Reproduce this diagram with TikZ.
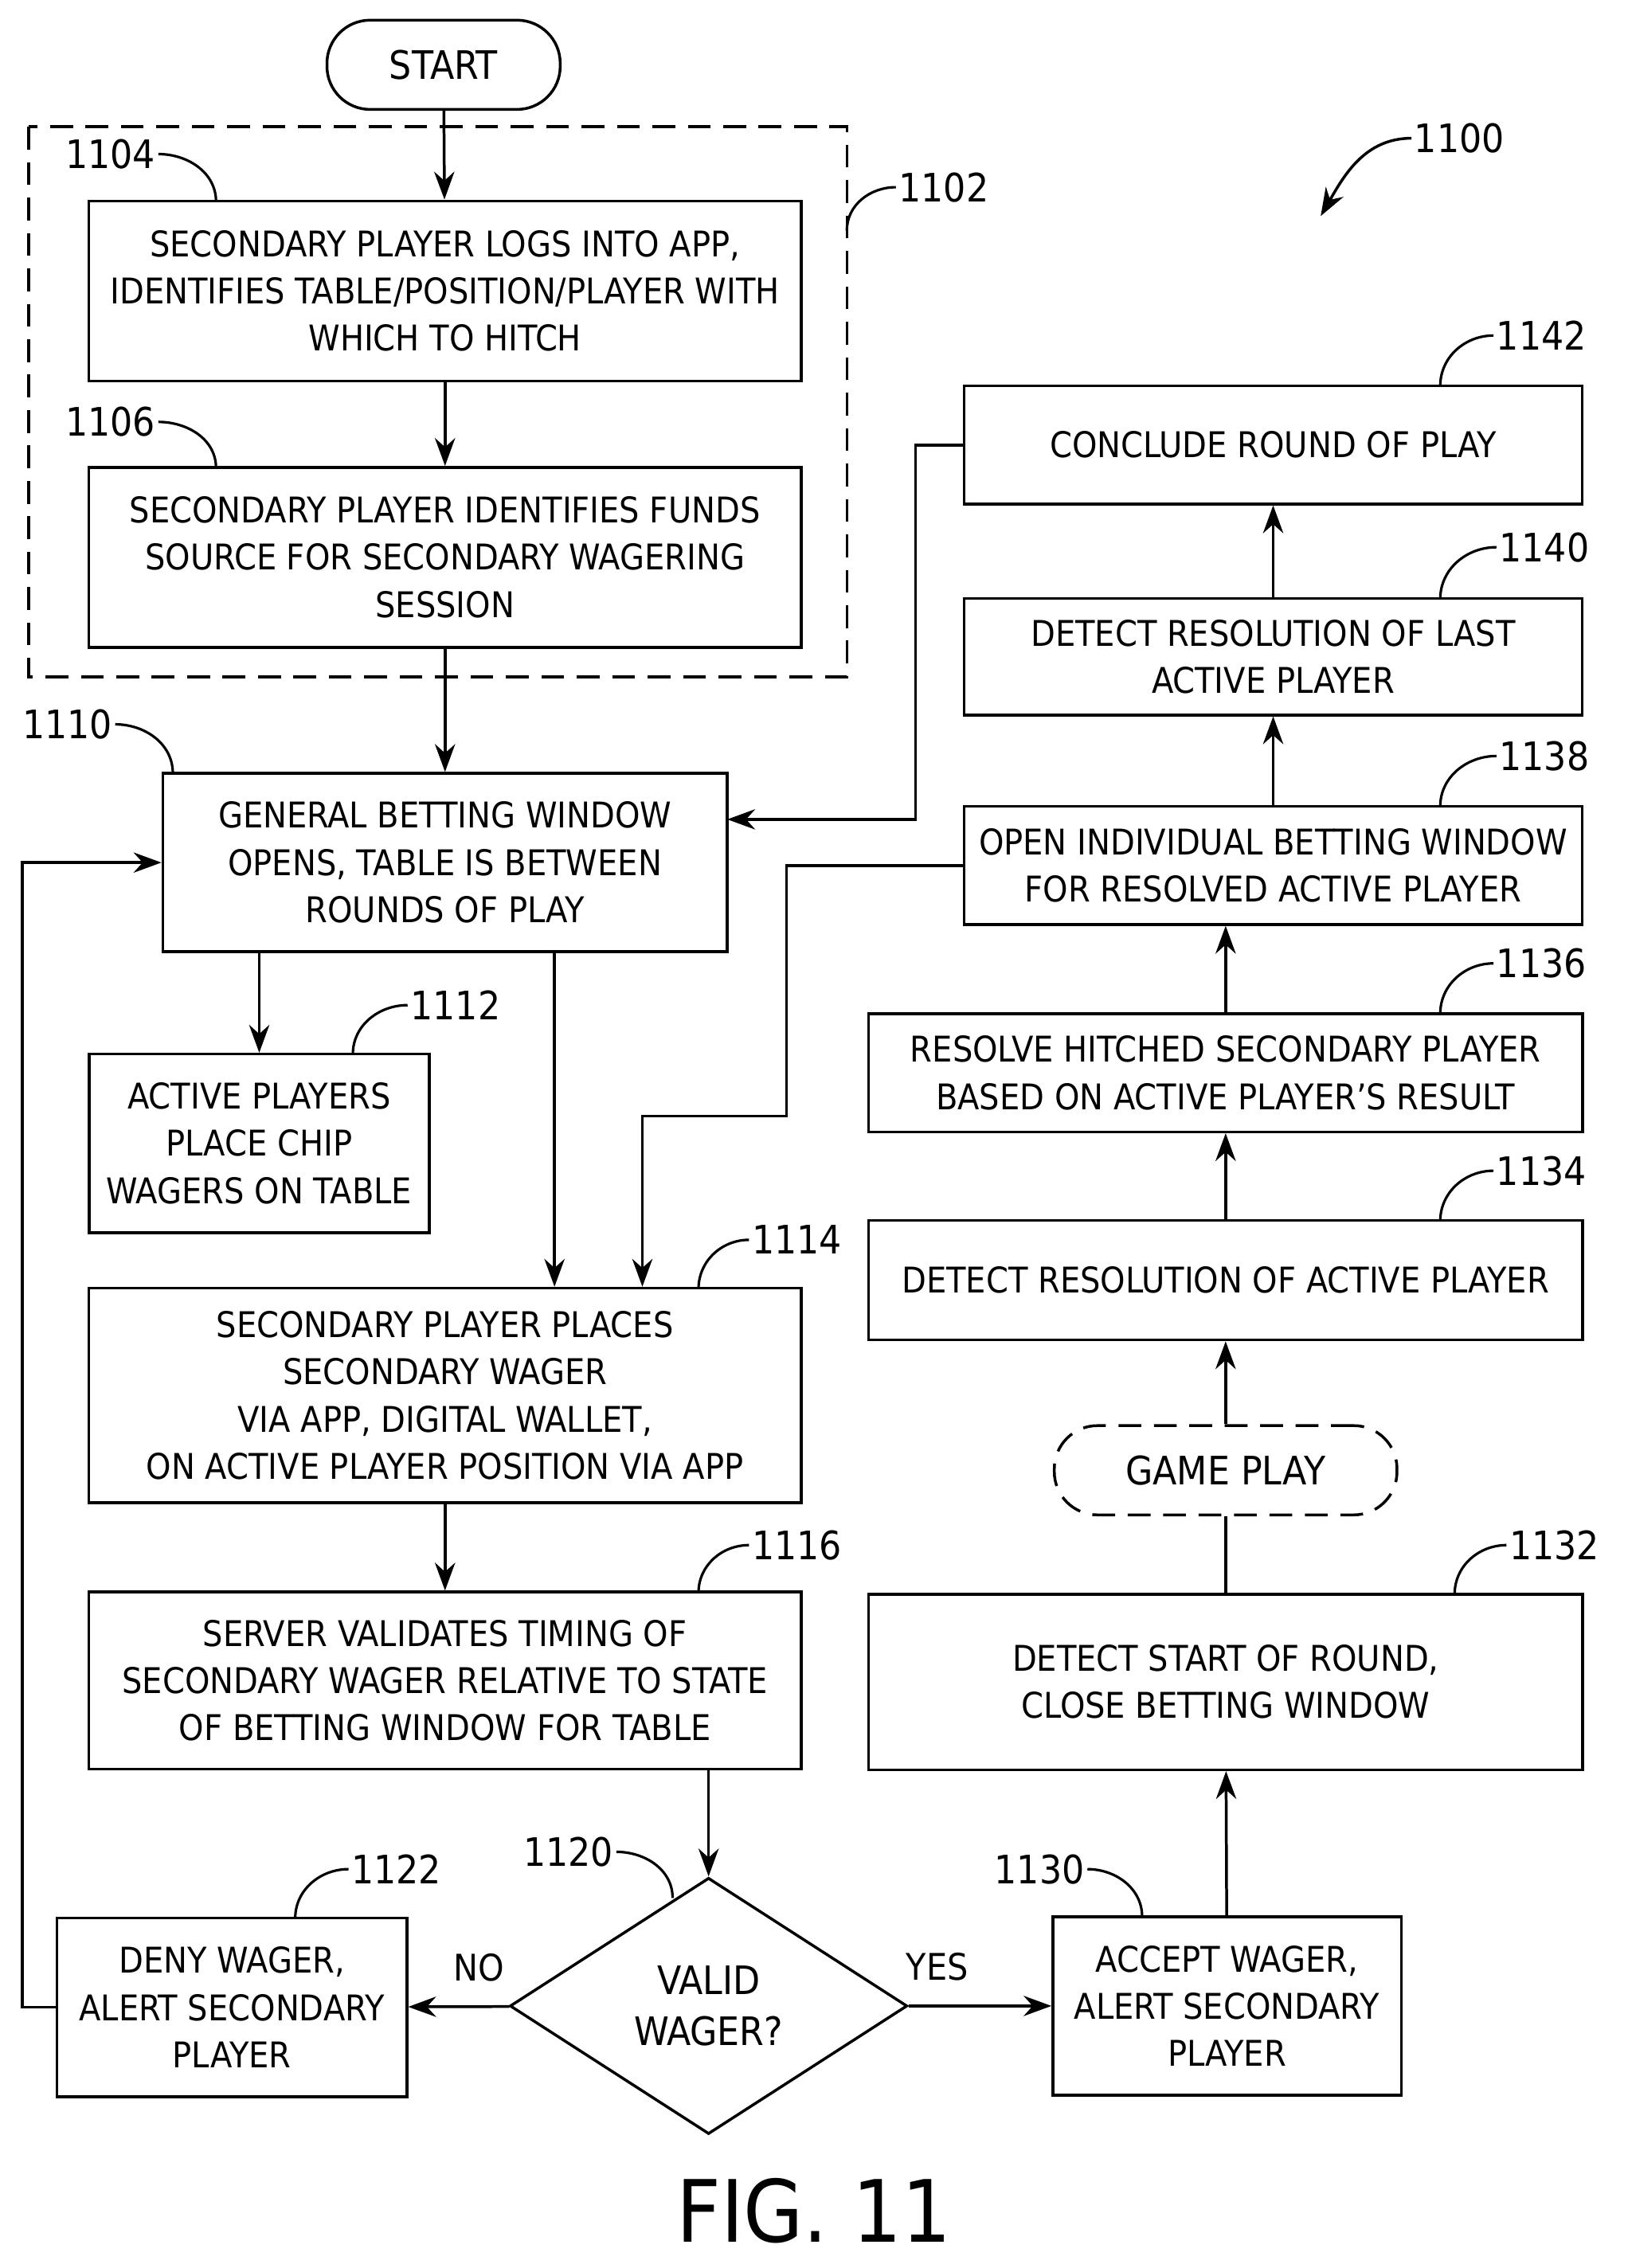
\documentclass[tikz,border=0pt]{standalone}
\usepackage{fontspec}
\setmainfont{DejaVu Sans Condensed}
\usetikzlibrary{arrows.meta,shapes.geometric,positioning}

\tikzset{
  box/.style={draw,line width=1.1pt,align=center,inner sep=2pt,font=\fontsize{14}{18.7}\selectfont},
  term/.style={box,rounded corners=0.6cm},
  num/.style={font=\fontsize{15.5}{18}\selectfont,inner sep=1pt},
  flow/.style={line width=1.1pt,-{Stealth[length=11pt,width=8pt]}},
  lead/.style={line width=1pt},
}

\begin{document}
\begin{tikzpicture}[x=0.02cm,y=-0.02cm]

  \useasboundingbox (0,0) rectangle (1130,1575);

  % dashed group
  \draw[line width=1.1pt,dash pattern=on 9pt off 5pt] (20,88) rectangle (588,470);

  % left column
  \node[term,minimum width=3.24cm,minimum height=1.24cm,font=\fontsize{15.5}{18}\selectfont] (start) at (308,45) {START};
  \node[box,minimum width=9.9cm,minimum height=2.5cm] (logs) at (309,202) {SECONDARY PLAYER LOGS INTO APP,\\IDENTIFIES TABLE/POSITION/PLAYER WITH\\WHICH TO HITCH};
  \node[box,minimum width=9.9cm,minimum height=2.5cm] (funds) at (309,387) {SECONDARY PLAYER IDENTIFIES FUNDS\\SOURCE FOR SECONDARY WAGERING\\SESSION};
  \node[box,minimum width=7.84cm,minimum height=2.48cm] (window) at (309,599) {GENERAL BETTING WINDOW\\OPENS, TABLE IS BETWEEN\\ROUNDS OF PLAY};
  \node[box,minimum width=4.72cm,minimum height=2.48cm] (chips) at (180,794) {ACTIVE PLAYERS\\PLACE CHIP\\WAGERS ON TABLE};
  \node[box,minimum width=9.9cm,minimum height=2.98cm] (places) at (309,969) {SECONDARY PLAYER PLACES\\SECONDARY WAGER\\VIA APP, DIGITAL WALLET,\\ON ACTIVE PLAYER POSITION VIA APP};
  \node[box,minimum width=9.9cm,minimum height=2.46cm] (validate) at (309,1167) {SERVER VALIDATES TIMING OF\\SECONDARY WAGER RELATIVE TO STATE\\OF BETTING WINDOW FOR TABLE};
  \node[draw,line width=1.1pt,diamond,aspect=1.55,minimum width=5.52cm,minimum height=3.56cm,inner sep=0pt,align=center,font=\fontsize{15.5}{20}\selectfont] (valid) at (492,1393) {VALID\\WAGER?};
  \node[box,minimum width=4.86cm,minimum height=2.48cm] (deny) at (161,1394) {DENY WAGER,\\ALERT SECONDARY\\PLAYER};

  % right column
  \node[box,minimum width=4.84cm,minimum height=2.48cm] (accept) at (852,1393) {ACCEPT WAGER,\\ALERT SECONDARY\\PLAYER};
  \node[box,minimum width=9.92cm,minimum height=2.44cm] (close) at (851,1168) {DETECT START OF ROUND,\\CLOSE BETTING WINDOW};
  \node[term,dash pattern=on 9pt off 5pt,minimum width=4.76cm,minimum height=1.24cm,font=\fontsize{15.5}{18}\selectfont] (game) at (851,1021) {GAME PLAY};
  \node[box,minimum width=9.92cm,minimum height=1.66cm] (detect) at (851,889) {DETECT RESOLUTION OF ACTIVE PLAYER};
  \node[box,minimum width=9.92cm,minimum height=1.64cm] (resolve) at (851,745) {RESOLVE HITCHED SECONDARY PLAYER\\BASED ON ACTIVE PLAYER'S RESULT};
  \node[box,minimum width=8.58cm,minimum height=1.64cm] (indiv) at (884,601) {OPEN INDIVIDUAL BETTING WINDOW\\FOR RESOLVED ACTIVE PLAYER};
  \node[box,minimum width=8.58cm,minimum height=1.62cm] (last) at (884,456) {DETECT RESOLUTION OF LAST\\ACTIVE PLAYER};
  \node[box,minimum width=8.58cm,minimum height=1.64cm] (conclude) at (884,309) {CONCLUDE ROUND OF PLAY};

  % connectors
  \draw[flow] (start) -- (logs);
  \draw[flow] (logs) -- (funds);
  \draw[flow] (funds) -- (window);
  \draw[flow] (window.south -| chips) -- (chips);
  \draw[flow] (window.south -| 385,0) -- (places.north -| 385,0);
  \draw[flow] (places) -- (validate);
  \draw[flow] (validate.south -| valid) -- (valid);
  \draw[flow] (valid) -- node[above=6pt,pos=0.3,font=\fontsize{14.5}{16}\selectfont]{NO} (deny);
  \draw[flow] (valid) -- node[above=6pt,pos=0.2,font=\fontsize{14.5}{16}\selectfont]{YES} (accept);
  \draw[flow] (deny.west) -- ++(-23,0) |- (window.west);
  \draw[flow] (accept) -- (close);
  \draw[line width=1.1pt] (close) -- (game);
  \draw[flow] (game) -- (detect);
  \draw[flow] (detect) -- (resolve);
  \draw[flow] (resolve.north -| detect) -- (indiv.south -| detect);
  \draw[flow] (indiv) -- (last);
  \draw[flow] (last) -- (conclude);
  \draw[flow] (conclude.west) -- ++(-33,0) |- (505,569);
  \draw[flow] (indiv.west) -- (546,601) -- (546,775) -- (446,775) -- (places.north -| 446,0);

  % reference numerals
  \node[num,anchor=east] (n1104) at (110,107) {1104};
  \draw[lead] (n1104.east) to[out=0,in=90] (150,140);
  \node[num,anchor=east] (n1106) at (110,293) {1106};
  \draw[lead] (n1106.east) to[out=0,in=90] (150,325);
  \node[num,anchor=west] (n1102) at (622,130) {1102};
  \draw[lead] (n1102.west) to[out=180,in=90] (588,160);
  \node[num,anchor=east] (n1110) at (80,503) {1110};
  \draw[lead] (n1110.east) to[out=0,in=90] (120,537);
  \node[num,anchor=west] (n1112) at (283,698) {1112};
  \draw[lead] (n1112.west) to[out=180,in=90] (245,732);
  \node[num,anchor=west] (n1114) at (520,861) {1114};
  \draw[lead] (n1114.west) to[out=180,in=90] (485,895);
  \node[num,anchor=west] (n1116) at (520,1073) {1116};
  \draw[lead] (n1116.west) to[out=180,in=90] (485,1106);
  \node[num,anchor=east] (n1120) at (428,1286) {1120};
  \draw[lead] (n1120.east) to[out=0,in=90] (467,1318);
  \node[num,anchor=west] (n1122) at (242,1298) {1122};
  \draw[lead] (n1122.west) to[out=180,in=90] (205,1332);
  \node[num,anchor=east] (n1130) at (755,1298) {1130};
  \draw[lead] (n1130.east) to[out=0,in=90] (793,1331);
  \node[num,anchor=west] (n1132) at (1046,1073) {1132};
  \draw[lead] (n1132.west) to[out=180,in=90] (1010,1107);
  \node[num,anchor=west] (n1134) at (1037,813) {1134};
  \draw[lead] (n1134.west) to[out=180,in=90] (1000,848);
  \node[num,anchor=west] (n1136) at (1037,669) {1136};
  \draw[lead] (n1136.west) to[out=180,in=90] (1000,704);
  \node[num,anchor=west] (n1138) at (1039,525) {1138};
  \draw[lead] (n1138.west) to[out=180,in=90] (1000,560);
  \node[num,anchor=west] (n1140) at (1039,380) {1140};
  \draw[lead] (n1140.west) to[out=180,in=90] (1000,416);
  \node[num,anchor=west] (n1142) at (1037,233) {1142};
  \draw[lead] (n1142.west) to[out=180,in=90] (1000,268);
  \node[num,anchor=west] (n1100) at (980,96) {1100};
  \draw[line width=1.1pt,-{Stealth[length=11pt,width=8pt]}] (n1100.west) to[out=180,in=60] (917,150);

  \node[font=\fontsize{34}{40}\selectfont] (fig) at (565,1535) {FIG. 11};

\end{tikzpicture}
\end{document}
